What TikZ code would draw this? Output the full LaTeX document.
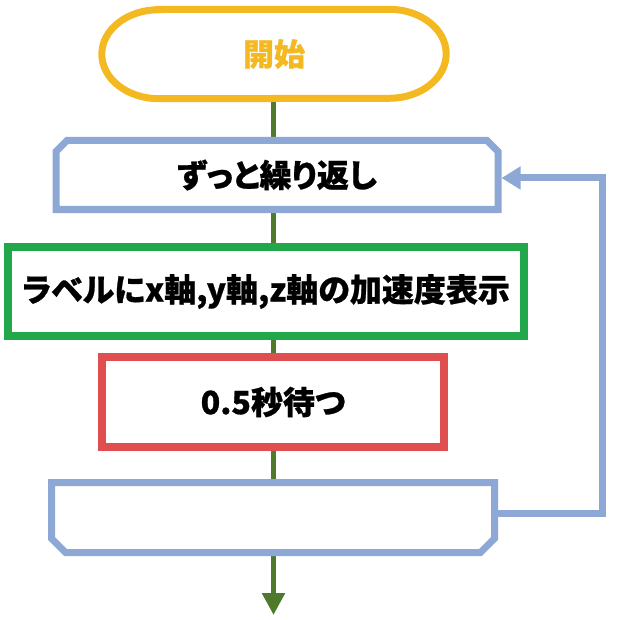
\documentclass[tikz,border=0pt]{standalone}
\usepackage{fontspec}
\newfontfamily\jpfont[RawFeature=+palt, BoldFeatures={FakeBold=0.8}]{Noto Sans CJK JP}
\usetikzlibrary{calc}
\usetikzlibrary{arrows.meta}
\definecolor{startcol}{HTML}{F4B921}
\definecolor{loopcol}{HTML}{8DA8D4}
\definecolor{dispcol}{HTML}{22A84B}
\definecolor{waitcol}{HTML}{E04F4F}
\definecolor{flowcol}{HTML}{4F7A2C}
\tikzset{
  stepfont/.style={font=\jpfont\bfseries\fontsize{32}{38}\selectfont},
  loopbox/.style={rectangle, inner sep=0pt, outer sep=0pt, stepfont},
  loopline/.style={draw=loopcol, fill=white, line width=7pt, line join=miter},
  procbox/.style={rectangle, line width=8pt, fill=white, inner sep=0pt, outer sep=0pt, stepfont},
  flow/.style={draw=flowcol, line width=5.5pt},
}
\begin{document}
\begin{tikzpicture}[x=1pt,y=-1pt]
\useasboundingbox (0,0) rectangle (620,620);
\coordinate (spine) at (273.5,0);
\coordinate (rail) at (602,0);
\coordinate (exit) at (273.5,615);

\node[minimum width=344pt, minimum height=89pt, inner sep=0pt] (start) at (274,54) {};
\node[loopbox, minimum width=442pt, minimum height=69pt] (loopTop) at (277,175) {};
\node[procbox, minimum width=516pt, minimum height=89pt] (disp) at (266,291.5) {};
\node[procbox, minimum width=342pt, minimum height=90pt] (wait) at (273,402) {};
\node[loopbox, minimum width=443pt, minimum height=70pt] (loopEnd) at (273,517.5) {};

% flow line first, the boxes cover its ends
\draw[flow] (start.south -| spine) -- (loopTop.north -| spine);
\draw[flow] (loopTop.south -| spine) -- (disp.north -| spine);
\draw[flow] (disp.south -| spine) -- (wait.north -| spine);
\draw[flow] (wait.south -| spine) -- (loopEnd.north -| spine);
\draw[flow,-{Triangle[length=22pt,width=22pt]}] (loopEnd.south -| spine) -- (exit);

% start
\draw[white,fill=white,draw=startcol,line width=7pt] ([xshift=57pt]start.north west) -- ([xshift=-57pt]start.north east)
  arc[start angle=90,end angle=-90,x radius=57pt,y radius=44.5pt]
  -- ([xshift=57pt]start.south west)
  arc[start angle=270,end angle=90,x radius=57pt,y radius=44.5pt] -- cycle;
\node[font=\jpfont\bfseries\fontsize{31}{36}\selectfont, text=startcol] (starttext) at (start) {開始};

% loop head, corners cut at the top
\draw[loopline] (loopTop.south west) -- ($(loopTop.north west)+(0,11)$) -- ($(loopTop.north west)+(11,0)$)
  -- ($(loopTop.north east)+(-11,0)$) -- ($(loopTop.north east)+(0,11)$) -- (loopTop.south east) -- cycle;
\node[stepfont] (loopText) at (loopTop) {ずっと繰り返し};

\draw[procbox, draw=dispcol] (disp.north west) rectangle (disp.south east);
\node[stepfont] (dispText) at (disp) {ラベルにx軸,y軸,z軸の加速度表示};
\draw[procbox, draw=waitcol] (wait.north west) rectangle (wait.south east);
\node[stepfont] (waitText) at (wait) {0.5秒待つ};

% loop end, corners cut at the bottom
\draw[loopline] (loopEnd.north west) -- ($(loopEnd.south west)+(0,-14)$) -- ($(loopEnd.south west)+(14,0)$)
  -- ($(loopEnd.south east)+(-14,0)$) -- ($(loopEnd.south east)+(0,-14)$) -- (loopEnd.north east) -- cycle;

% back to the top of the loop
\draw[draw=loopcol, line width=7pt, -{Triangle[length=19pt,width=22pt]}]
  ([yshift=4pt]loopEnd.east) -- ([yshift=4pt]loopEnd.east -| rail) |- ([xshift=3.5pt,yshift=-3pt]loopTop.east);
\end{tikzpicture}
\end{document}
